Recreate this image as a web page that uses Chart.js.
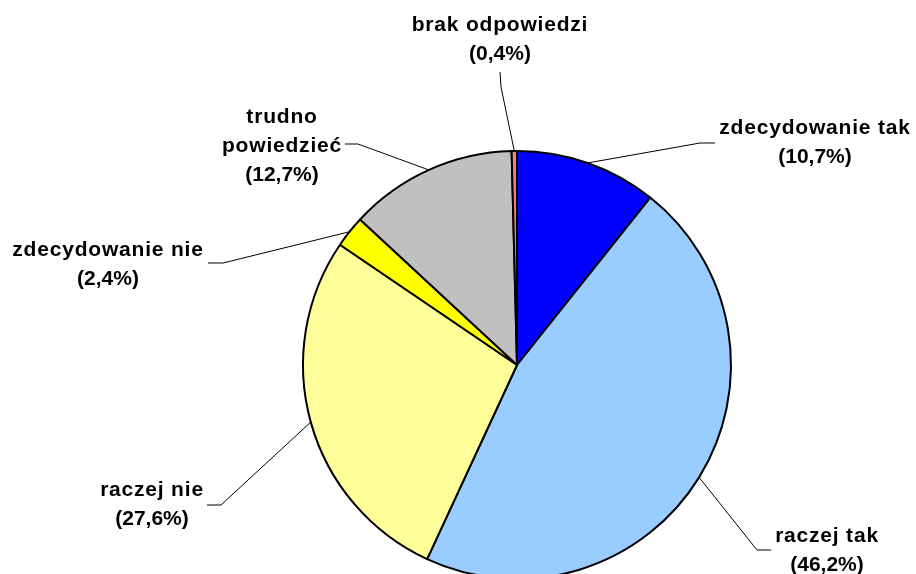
<!DOCTYPE html>
<html>
<head>
<meta charset="utf-8">
<script src="https://cdn.jsdelivr.net/npm/chart.js@4"></script>
<style>
  html, body { margin: 0; padding: 0; background: #fff; overflow: hidden; }
  #wrap { width: 916px; height: 574px; overflow: hidden; position: relative; }
  canvas { display: block; }
</style>
</head>
<body>
<div id="wrap"><canvas id="c" width="916" height="600"></canvas></div>
<script>
// ---- data ----
const categories = ["zdecydowanie tak", "raczej tak", "raczej nie", "zdecydowanie nie", "trudno powiedzieć", "brak odpowiedzi"];
const values = [10.7, 46.2, 27.6, 2.4, 12.7, 0.4];
const labelLines = [
  ["zdecydowanie tak", "(10,7%)"],
  ["raczej tak", "(46,2%)"],
  ["raczej nie", "(27,6%)"],
  ["zdecydowanie nie", "(2,4%)"],
  ["trudno", "powiedzieć", "(12,7%)"],
  ["brak odpowiedzi", "(0,4%)"]
];
const colors = ["#0000FF", "#99CCFF", "#FFFF99", "#FFFF00", "#C0C0C0", "#F08080"];

// ---- label layout (text block centre, leader start, elbow) ----
const labelLayout = [
  { x: 815, y: 143, start: [715, 143], elbow: [700, 143] },
  { x: 827, y: 551, start: [771, 550], elbow: [757, 550] },
  { x: 152, y: 505, start: [207, 505], elbow: [221, 505] },
  { x: 108, y: 265, start: [208, 263], elbow: [223, 263] },
  { x: 282, y: 146, start: [345, 144], elbow: [358, 144] },
  { x: 500, y: 40,  start: [500, 72],  elbow: [501, 87] }
];

const labelPlugin = {
  id: 'pieLabels',
  afterDatasetsDraw(chart) {
    const ctx = chart.ctx;
    const meta = chart.getDatasetMeta(0);
    ctx.save();
    ctx.font = 'bold 21px "Liberation Sans", Arial, sans-serif';
    ctx.fillStyle = '#000';
    ctx.textAlign = 'center';
    ctx.textBaseline = 'middle';
    const lh = 29;
    meta.data.forEach((arc, i) => {
      const L = labelLayout[i];
      const lines = labelLines[i];
      const mid = (arc.startAngle + arc.endAngle) / 2;
      const ex = arc.x + Math.cos(mid) * arc.outerRadius;
      const ey = arc.y + Math.sin(mid) * arc.outerRadius;
      // leader line
      ctx.beginPath();
      ctx.lineWidth = 1;
      ctx.strokeStyle = '#000';
      ctx.moveTo(L.start[0], L.start[1]);
      ctx.lineTo(L.elbow[0], L.elbow[1]);
      ctx.lineTo(ex, ey);
      ctx.stroke();
      // text
      const n = lines.length;
      lines.forEach((t, k) => {
        const yy = L.y + (k - (n - 1) / 2) * lh;
        const isPct = t.charAt(0) === '(';
        try { ctx.letterSpacing = isPct ? '0px' : '0.8px'; } catch (e) {}
        ctx.fillText(t, L.x, yy);
      });
    });
    ctx.restore();
  }
};

new Chart(document.getElementById('c'), {
  type: 'pie',
  data: {
    labels: categories,
    datasets: [{
      data: values,
      backgroundColor: colors,
      borderColor: '#000',
      borderWidth: 2,
      radius: 214
    }]
  },
  options: {
    responsive: false,
    devicePixelRatio: 1,
    animation: false,
    layout: { padding: { left: 300, right: 182, top: 148, bottom: 18 } },
    plugins: {
      legend: { display: false },
      tooltip: { enabled: false }
    }
  },
  plugins: [labelPlugin]
});
</script>
</body>
</html>
